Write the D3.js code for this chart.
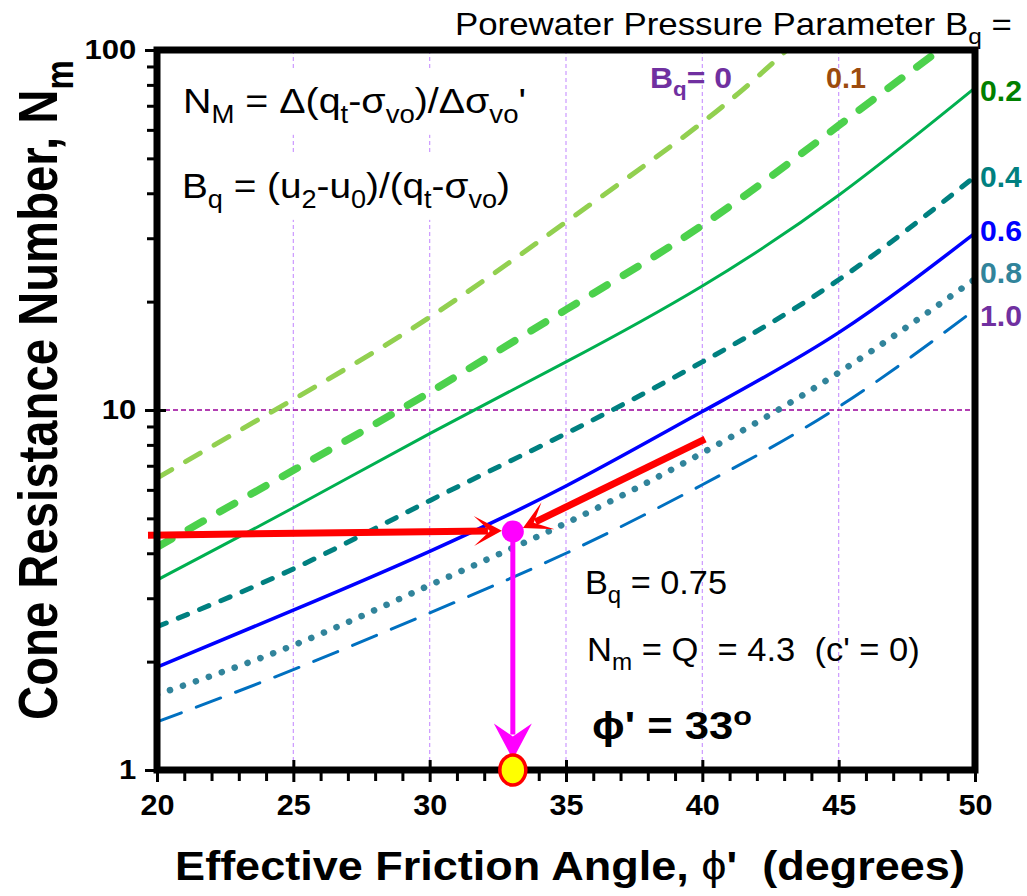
<!DOCTYPE html>
<html>
<head>
<meta charset="utf-8">
<script src="https://cdn.jsdelivr.net/npm/d3@7"></script>
<style>
  body { margin: 0; background: #fff; }
  svg { display: block; font-family: "Liberation Sans", Arial, sans-serif; }
  text { white-space: pre; }
</style>
</head>
<body>
<svg id="chart" width="1027" height="896"></svg>
<script>
// values: friction angle (deg) vs cone resistance number N_m
var phi = [20, 25, 30, 35, 40, 45, 50];
var phi_bq0 = [20, 25, 30, 35, 40, 43.1];
var phi_bq01 = [20, 25, 30, 35, 40, 45, 48.7];

var nm_bq0  = [6.47, 10.7, 18.1, 33.3, 62.9, 100];
var nm_bq01 = [4.16, 6.8, 11.2, 19.0, 32.6, 61.7, 100];
var nm_bq02 = [3.37, 5.35, 8.6, 13.6, 22.1, 39.5, 78.5];
var nm_bq04 = [2.50, 3.62, 5.6, 8.6, 13.6, 23.0, 44.5];
var nm_bq06 = [1.93, 2.78, 4.05, 6.15, 9.9, 16.4, 31.0];
var nm_bq08 = [1.62, 2.22, 3.26, 4.85, 7.6, 12.7, 23.1];
var nm_bq10 = [1.36, 1.90, 2.73, 4.0, 6.2, 10.2, 19.0];

var xTicks = [20, 25, 30, 35, 40, 45, 50];
var yTicks = [1, 10, 100];
var gridPhi = [25, 30, 35, 40, 45];
var gridN = [10];

// worked example: Bq = 0.75, Q = 4.3 -> phi' = 33
var arrowIn = [[19.67, 4.49], [32.65, 4.62]];
var arrowDiag = [[40.1, 8.3], [33.42, 4.7]];
var pick = [33.05, 4.6];
var arrowDown = [[33.05, 4.6], [33.05, 1.07]];
var answer = [33.05, 1];

var svg = d3.select('#chart');

var x = d3.scaleLinear().domain([20, 50]).range([157, 975]);
var y = d3.scaleLog().domain([1, 100]).range([770, 50]);

var series = [
  { name: '0',   px: phi_bq0,  v: nm_bq0,  c: '#92D050', w: 5,   dash: '17,16', cap: 'round' },
  { name: '0.1', px: phi_bq01, v: nm_bq01, c: '#4CD14C', w: 7.5, dash: '17,19', cap: 'round' },
  { name: '0.2', px: phi,      v: nm_bq02, c: '#00B050', w: 3,   dash: null,    cap: 'butt', lc: '#008000' },
  { name: '0.4', px: phi,      v: nm_bq04, c: '#008080', w: 5,   dash: '10,13', cap: 'round', lc: '#008080' },
  { name: '0.6', px: phi,      v: nm_bq06, c: '#0000FF', w: 3.5, dash: null,    cap: 'butt', lc: '#0000FF' },
  { name: '0.8', px: phi,      v: nm_bq08, c: '#31849B', w: 6.5, dash: '0.1,13.6', cap: 'round', lc: '#31849B' },
  { name: '1.0', px: phi,      v: nm_bq10, c: '#0070C0', w: 3,   dash: '26,16', cap: 'round', lc: '#7030A0' }
];
// baselines of the labels on the right side
var rightLabelY = { '0.2': 101, '0.4': 187, '0.6': 241, '0.8': 283, '1.0': 326 };

// text with sub/superscripts, squeezed or stretched to a given width
function label(g, px, py, parts, o) {
  var t = g.append('text')
      .attr('font-size', o.size)
      .attr('font-weight', o.bold ? 'bold' : 'normal')
      .attr('fill', o.fill || '#000')
      .attr('text-anchor', o.anchor || 'start');
  var shift = 0;
  parts.forEach((p) => {
    var s = typeof p === 'string' ? { t: p } : p;
    var ts = t.append('tspan').text(s.t);
    var target = s.sub ? o.size * 0.28 : s.sup ? -o.size * 0.38 : 0;
    if (target !== shift) { ts.attr('dy', target - shift); shift = target; }
    if (s.sub || s.sup) ts.attr('font-size', o.size * 0.7);
    if (s.weight) ts.attr('font-weight', s.weight);
  });
  var w = t.node().getBBox().width;
  var sx = o.width ? o.width / w : 1;
  t.attr('transform', `translate(${px},${py}) ${o.rot ? 'rotate(-90) ' : ''}scale(${sx},${o.sy || 1})`);
  return t;
}

// white boxes behind the two formulas
var boxes = svg.append('g');

// grid
svg.append('g').selectAll('line').data(gridPhi).enter().append('line')
    .attr('x1', (d) => x(d)).attr('x2', (d) => x(d))
    .attr('y1', y(100)).attr('y2', y(1))
    .attr('stroke', '#CC99FF').attr('stroke-width', 1.2).attr('stroke-dasharray', '4,3');

svg.append('g').selectAll('line').data(gridN).enter().append('line')
    .attr('x1', x(20)).attr('x2', x(50))
    .attr('y1', (d) => y(d)).attr('y2', (d) => y(d))
    .attr('stroke', '#990099').attr('stroke-width', 1.3).attr('stroke-dasharray', '5,3');

// formulas (with white backing)
var f1 = label(svg, 183, 113, ['N', { t: 'M', sub: 1 }, ' = \u0394(q', { t: 't', sub: 1 }, '-\u03c3', { t: 'vo', sub: 1 }, ')/\u0394\u03c3', { t: 'vo', sub: 1 }, "'"], { size: 36, width: 343 });
var f2 = label(svg, 182, 198, ['B', { t: 'q', sub: 1 }, ' = (u', { t: '2', sub: 1 }, '-u', { t: '0', sub: 1 }, ')/(q', { t: 't', sub: 1 }, '-\u03c3', { t: 'vo', sub: 1 }, ')'], { size: 36, width: 328 });
[f1, f2].forEach((f) => {
  var b = f.node().getBoundingClientRect();
  boxes.append('rect')
      .attr('x', b.left - 14).attr('y', b.top - 12)
      .attr('width', b.width + 28).attr('height', b.height + 18)
      .attr('fill', '#fff');
});
boxes.raise();
f1.raise(); f2.raise();

// curves
svg.append('clipPath').attr('id', 'plot').append('rect')
    .attr('x', x(20)).attr('y', y(100)).attr('width', x(50) - x(20)).attr('height', y(1) - y(100));

var line = d3.line()
    .x((d) => x(d[0]))
    .y((d) => y(d[1]))
    .curve(d3.curveNatural);

svg.append('g').attr('clip-path', 'url(#plot)')
    .selectAll('path').data(series).enter().append('path')
    .attr('d', (s) => line(s.px.map((p, i) => [p, s.v[i]])))
    .attr('fill', 'none')
    .attr('stroke', (s) => s.c)
    .attr('stroke-width', (s) => s.w)
    .attr('stroke-dasharray', (s) => s.dash)
    .attr('stroke-linecap', (s) => s.cap);

// arrows
function arrow(pts, color, width, len, half, notch) {
  var p0 = [x(pts[0][0]), y(pts[0][1])];
  var p1 = [x(pts[1][0]), y(pts[1][1])];
  var ang = Math.atan2(p1[1] - p0[1], p1[0] - p0[0]);
  var ux = Math.cos(ang), uy = Math.sin(ang);
  svg.append('line')
      .attr('x1', p0[0]).attr('y1', p0[1])
      .attr('x2', p1[0] - ux * (notch + 2)).attr('y2', p1[1] - uy * (notch + 2))
      .attr('stroke', color).attr('stroke-width', width);
  svg.append('path')
      .attr('d', `M0,0 L${-len},${-half} L${-notch},0 L${-len},${half} Z`)
      .attr('transform', `translate(${p1[0]},${p1[1]}) rotate(${ang * 180 / Math.PI})`)
      .attr('fill', color);
}

arrow(arrowIn, '#FF0000', 7, 28, 15, 12);
arrow(arrowDiag, '#FF0000', 7, 28, 15, 12);
arrow(arrowDown, '#FF00FF', 5, 36, 19, 23);

svg.append('circle')
    .attr('cx', x(pick[0])).attr('cy', y(pick[1])).attr('r', 11)
    .attr('fill', '#FF00FF');

// frame
svg.append('rect')
    .attr('x', x(20)).attr('y', y(100))
    .attr('width', x(50) - x(20)).attr('height', y(1) - y(100))
    .attr('fill', 'none').attr('stroke', '#000').attr('stroke-width', 7);

// x axis
var minorX = d3.range(20, 51, 1).filter((d) => d % 5 !== 0);
var gxm = svg.append('g').attr('transform', `translate(0,${y(1)})`)
    .call(d3.axisBottom(x).tickValues(minorX).tickSize(11).tickFormat(''));
gxm.select('.domain').remove();
gxm.selectAll('line').attr('stroke-width', 3);

var gx = svg.append('g').attr('transform', `translate(0,${y(1)})`)
    .call(d3.axisBottom(x).tickValues(xTicks).tickSize(12).tickPadding(12).tickFormat(d3.format('d')));
gx.select('.domain').remove();
gx.selectAll('line').attr('y1', -10).attr('stroke-width', 3);
gx.selectAll('text')
    .attr('font-size', 30).attr('font-weight', 'bold').attr('fill', '#000')
    .attr('font-family', '"Liberation Sans", Arial, sans-serif')
    .attr('transform', 'scale(1.02,1)');

// y axis
var minorY = [2, 3, 4, 5, 6, 7, 8, 9, 20, 30, 40, 50, 60, 70, 80, 90];
var gym = svg.append('g').attr('transform', `translate(${x(20)},0)`)
    .call(d3.axisLeft(y).tickValues(minorY).tickSize(10).tickFormat(''));
gym.select('.domain').remove();
gym.selectAll('line').attr('stroke-width', 3);

var gy = svg.append('g').attr('transform', `translate(${x(20)},0)`)
    .call(d3.axisLeft(y).tickValues(yTicks).tickSize(12).tickPadding(6).tickFormat(d3.format('d')));
gy.select('.domain').remove();
gy.selectAll('line').attr('x1', 9).attr('stroke-width', 3);
gy.selectAll('text')
    .attr('font-size', 27).attr('font-weight', 'bold').attr('fill', '#000')
    .attr('font-family', '"Liberation Sans", Arial, sans-serif')
    .attr('transform', 'scale(1.15,1)');

// picked answer on the phi axis
svg.append('ellipse')
    .attr('cx', x(answer[0])).attr('cy', y(answer[1]))
    .attr('rx', 13).attr('ry', 15)
    .attr('fill', '#FFFF00').attr('stroke', '#FF0000').attr('stroke-width', 3.5);

// curve labels
label(svg, 650, 88, ['B', { t: 'q', sub: 1 }, '= 0'], { size: 30, bold: 1, fill: '#7030A0', width: 82 });
label(svg, 826, 88, ['0.1'], { size: 30, bold: 1, fill: '#9C4B0E', width: 40 });
series.filter((s) => rightLabelY[s.name]).forEach((s) => {
  label(svg, 980, rightLabelY[s.name], [s.name], { size: 30, bold: 1, fill: s.lc, width: 42 });
});

// title and annotations
label(svg, 455, 35, ['Porewater Pressure Parameter B', { t: 'q', sub: 1 }, ' ='], { size: 31, width: 557 });
label(svg, 585, 594, ['B', { t: 'q', sub: 1 }, ' = 0.75'], { size: 33, width: 142 });
label(svg, 587, 661, ['N', { t: 'm', sub: 1 }, " = Q  = 4.3  (c' = 0)"], { size: 33, width: 333 });
label(svg, 592, 739, ["\u03d5' = 33", { t: 'o', sup: 1 }], { size: 38, bold: 1, width: 160 });

// axis titles
label(svg, 570, 880, ['Effective Friction Angle, ', { t: '\u03d5', weight: 'normal' }, "'  (degrees)"], { size: 40, bold: 1, anchor: 'middle', width: 790 });
label(svg, 57, 390, ['Cone Resistance Number, N', { t: 'm', sub: 1 }], { size: 46, bold: 1, anchor: 'middle', width: 660, rot: 1, sy: 1.22 });
</script>
</body>
</html>
